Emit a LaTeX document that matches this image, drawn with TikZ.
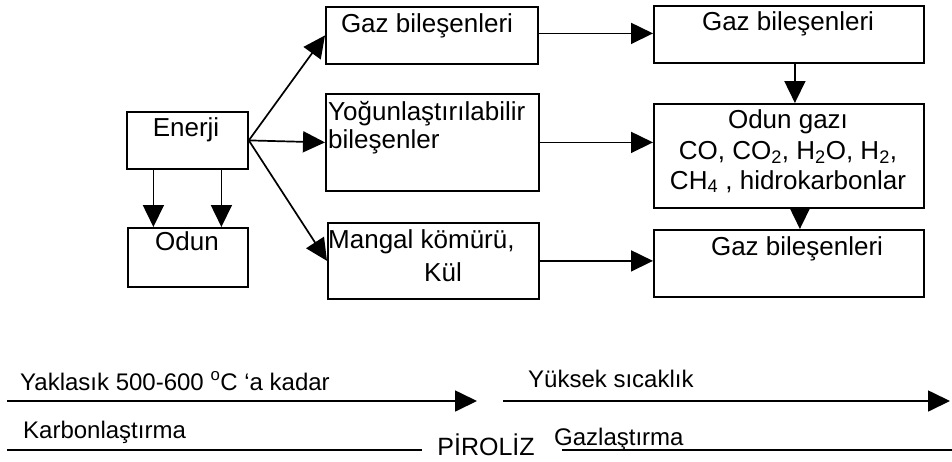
\documentclass[tikz,border=0pt]{standalone}
\usepackage{fontspec}
\setmainfont{Liberation Sans}
\usetikzlibrary{arrows.meta}
\begin{document}
\begin{tikzpicture}[x=1pt,y=-1pt,
 box/.style={draw,line width=1.8pt,inner sep=0pt,anchor=north west},
 txt/.style={inner sep=0pt,anchor=base,font=\fontsize{26}{30}\selectfont},
 btxt/.style={inner sep=0pt,anchor=base west,font=\fontsize{24}{28}\selectfont},
 arr/.style={line width=1.7pt,-{Triangle[length=22pt,width=21pt]}},
 ln/.style={line width=1.7pt}]
\useasboundingbox (0,0) rectangle (952,461);
% boxes
\node[box,minimum width=121pt,minimum height=57pt] (en) at (126,111) {};
\node[box,minimum width=120pt,minimum height=59pt] (od) at (127,227) {};
\node[box,minimum width=212pt,minimum height=57pt] (b1) at (325,6) {};
\node[box,minimum width=213pt,minimum height=97pt] (b2) at (325,93) {};
\node[box,minimum width=211pt,minimum height=76pt] (b3) at (327,222) {};
\node[box,minimum width=270pt,minimum height=57pt] (r1) at (653,5) {};
\node[box,minimum width=270pt,minimum height=104pt] (r2) at (653,103) {};
\node[box,minimum width=270pt,minimum height=67pt] (r3) at (653,229) {};
% texts
\node[txt] (ent) at (186,136) {Enerji};
\node[txt] (odt) at (187,250) {Odun};
\node[txt] (b1t) at (427,32) {Gaz bileşenleri};
\node[txt,anchor=base west] (b2ta) at (328,120) {Yoğunlaştırılabilir};
\node[txt,anchor=base west] (b2tb) at (328,148) {bileşenler};
\node[txt,anchor=base west] (b3ta) at (328,248) {Mangal kömürü,};
\node[txt] (b3tb) at (443,281) {Kül};
\node[txt] (r1t) at (788,30) {Gaz bileşenleri};
\node[txt] (r2ta) at (788,128) {Odun gazı};
\node[txt] (r2tb) at (788,159) {CO, CO\textsubscript{2}, H\textsubscript{2}O, H\textsubscript{2},};
\node[txt] (r2tc) at (788,189) {CH\textsubscript{4} , hidrokarbonlar};
\node[txt] (r3t) at (797,255) {Gaz bileşenleri};
% connectors
\draw[arr] (en.east) -- (b1.west);
\draw[arr] (en.east) -- (b2.west);
\draw[arr] (en.east) -- (b3.west);
\draw[arr] ([xshift=-34pt]en.south) -- ([xshift=-34pt]en.south |- od.north);
\draw[arr] ([xshift=34pt]en.south) -- ([xshift=34pt]en.south |- od.north);
\draw[arr] ([yshift=2pt]b1.east) -- ([yshift=2pt]b1.east -| r1.west);
\draw[arr] (b2.east) -- (b2.east -| r2.west);
\draw[arr] (b3.east) -- (b3.east -| r3.west);
\draw[arr] ([xshift=6pt]r1.south) -- ([xshift=6pt]r1.south |- r2.north);
\draw[arr] ([xshift=11pt]r2.south) -- ([xshift=11pt]r2.south |- r3.north);
% bottom timeline
\coordinate (a1) at (7,401);
\coordinate (a2) at (477,401);
\coordinate (a3) at (503,401);
\coordinate (a4) at (950,401);
\coordinate (c1) at (7,450);
\coordinate (c2) at (422,450);
\coordinate (c3) at (562,450);
\coordinate (c4) at (952,450);
\draw[arr] (a1) -- (a2);
\draw[arr] (a3) -- (a4);
\draw[ln] (c1) -- (c2);
\draw[ln] (c3) -- (c4);
\node[btxt] (t1) at (20,390) {Yaklasık 500-600 \textsuperscript{o}C ‘a kadar};
\node[btxt] (t2) at (528,387) {Yüksek sıcaklık};
\node[btxt] (t3) at (23,438) {Karbonlaştırma};
\node[btxt] (t4) at (554,445) {Gazlaştırma};
\node[inner sep=0pt,anchor=base,font=\fontsize{25}{28}\selectfont] (pir) at (486,455) {PİROLİZ};
\end{tikzpicture}
\end{document}
